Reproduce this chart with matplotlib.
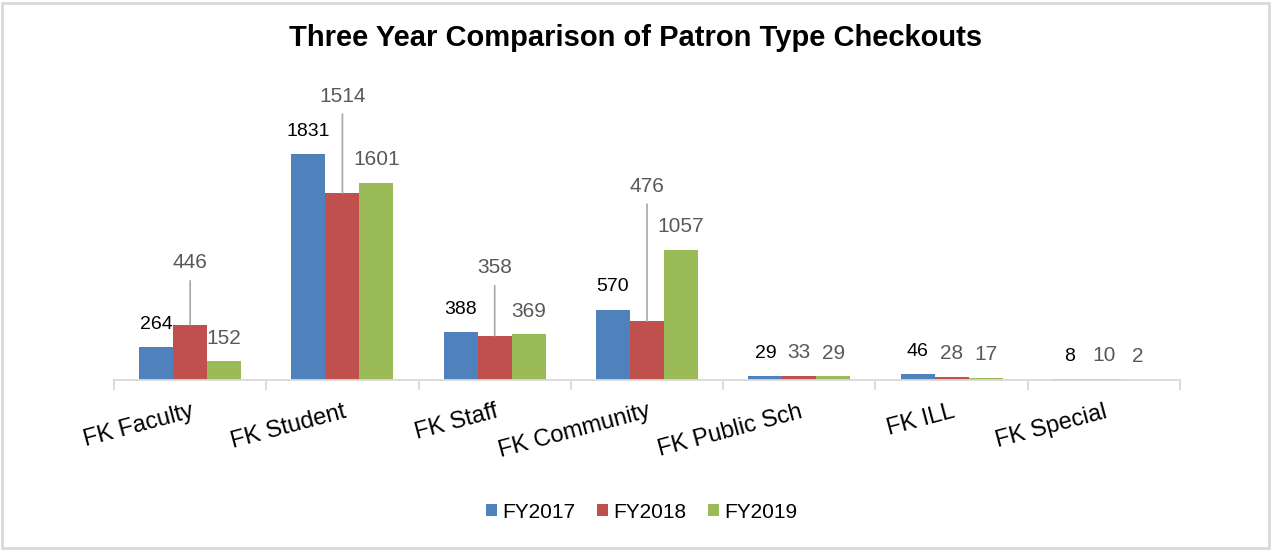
import matplotlib
matplotlib.use('Agg')
import matplotlib.pyplot as plt
from matplotlib.patches import Rectangle
import numpy as np

plt.rcParams['font.family'] = ['Liberation Sans', 'DejaVu Sans']

categories = ['FK Faculty', 'FK Student', 'FK Staff', 'FK Community',
              'FK Public Sch', 'FK ILL', 'FK Special']
series = ['FY2017', 'FY2018', 'FY2019']
fy2017 = [264, 1831, 388, 570, 29, 46, 8]
fy2018 = [446, 1514, 358, 476, 33, 28, 10]
fy2019 = [152, 1601, 369, 1057, 29, 17, 2]

colors = ['#4F81BD', '#C0504D', '#9BBB59']
label_colors = ['#000000', '#595959', '#595959']
label_sizes = [14, 15, 15]
# how far (px) each data label sits above its bar; FY2018 ones pulled up with leader lines
lift_2018 = [62, 97, 68, 135, 23, 23, 23]

fig = plt.figure(figsize=(12.72, 5.5), dpi=100)
ax = fig.add_axes([114 / 1272, 170 / 550, 1066 / 1272, 296 / 550])

x = np.arange(len(categories))
w = 0.223
values = [fy2017, fy2018, fy2019]
for k, vals in enumerate(values):
    xs = x + (k - 1) * w
    ax.bar(xs, vals, width=w, color=colors[k], label=series[k], linewidth=0)
    for i, v in enumerate(vals):
        lift = lift_2018[i] if k == 1 else 23
        if lift > 40:
            ax.annotate(str(v), xy=(xs[i], v), xytext=(0, lift), textcoords='offset pixels',
                        ha='center', va='center', fontsize=label_sizes[k], color=label_colors[k],
                        arrowprops=dict(arrowstyle='-', color='#a6a6a6', lw=1.2,
                                        shrinkA=4, shrinkB=0))
        else:
            ax.annotate(str(v), xy=(xs[i], v), xytext=(0, lift), textcoords='offset pixels',
                        ha='center', va='center', fontsize=label_sizes[k], color=label_colors[k])

ax.set_xlim(-0.5, len(categories) - 0.5)
ax.set_ylim(0, 2400)
ax.set_yticks([])
for s in ['top', 'left', 'right']:
    ax.spines[s].set_visible(False)
ax.spines['bottom'].set_color('#d9d9d9')
ax.spines['bottom'].set_linewidth(1.3)

ax.set_xticks(x)
ax.set_xticklabels(categories, fontsize=17, rotation=15, ha='right', va='top',
                   rotation_mode='anchor')
ax.tick_params(axis='x', which='major', length=0, pad=15)
ax.set_xticks(np.arange(-0.5, len(categories)), minor=True)
ax.tick_params(axis='x', which='minor', length=7, width=1.3, color='#d9d9d9')

fig.text(0.5, 1 - 38 / 550, 'Three Year Comparison of Patron Type Checkouts',
         ha='center', va='center', fontsize=21, fontweight='bold')

fig.legend(loc='center', bbox_to_anchor=(641.5 / 1272, 1 - 512 / 550), ncol=3,
           frameon=False, fontsize=15, handlelength=0.53, handleheight=0.53,
           handletextpad=0.25, columnspacing=1.05)

fig.patches.append(Rectangle((2 / 1272, 2 / 550), 1267 / 1272, 545 / 550,
                             transform=fig.transFigure, fill=False,
                             edgecolor='#d9d9d9', linewidth=2))

fig.savefig('out.png', dpi=100)
